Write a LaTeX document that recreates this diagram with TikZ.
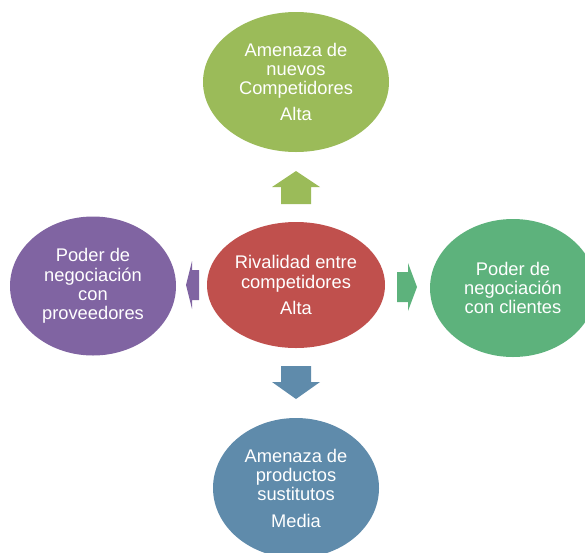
\documentclass[tikz,border=0pt]{standalone}
\usepackage{fontspec}
\setmainfont{Liberation Sans}
\usetikzlibrary{shapes.geometric}
\definecolor{cTop}{HTML}{9BBB59}
\definecolor{cMid}{HTML}{C0504D}
\definecolor{cLeft}{HTML}{8064A2}
\definecolor{cRight}{HTML}{5DB27C}
\definecolor{cBot}{HTML}{5F8BAB}
\tikzset{
  force/.style={ellipse, inner sep=0pt, text=white, align=center,
    font=\fontsize{18.3}{19.3}\selectfont},
}
\begin{document}
\begin{tikzpicture}[x=1pt,y=-1pt]
\useasboundingbox (0,0) rectangle (585,552);
\clip (0,0) rectangle (585,552);
\node[force, fill=cTop, minimum width=186pt, minimum height=140pt] (top) at (296,82)
  {Amenaza de\\nuevos\\Competidores\\[7pt]Alta};
\node[force, fill=cMid, minimum width=178pt, minimum height=126pt] (mid) at (296,285)
  {Rivalidad entre\\competidores\\[7pt]Alta};
\node[force, fill=cLeft, minimum width=166pt, minimum height=139pt] (left) at (93,286)
  {Poder de\\negociación\\con\\proveedores};
\node[force, fill=cRight, minimum width=166pt, minimum height=138pt] (right) at (513,288)
  {Poder de\\negociación\\con clientes};
\node[force, fill=cBot, minimum width=166pt, minimum height=140pt] (bot) at (296,488)
  {Amenaza de\\productos\\sustitutos\\[7pt]Media};
% block arrows
\fill[cTop] (272,187) -- (296,171) -- (320,187) -- (311,187) -- (311,204) -- (281,204) -- (281,187) -- cycle;
\fill[cBot] (281,366) -- (311,366) -- (311,382) -- (320,382) -- (296,399) -- (272,382) -- (281,382) -- cycle;
\fill[cLeft] (199,270) -- (199,300) -- (192,300) -- (192,309) -- (186,285) -- (192,261) -- (192,270) -- cycle;
\fill[cRight] (397,272) -- (408,272) -- (408,263) -- (417,287) -- (408,311) -- (408,302) -- (397,302) -- cycle;
\end{tikzpicture}
\end{document}
